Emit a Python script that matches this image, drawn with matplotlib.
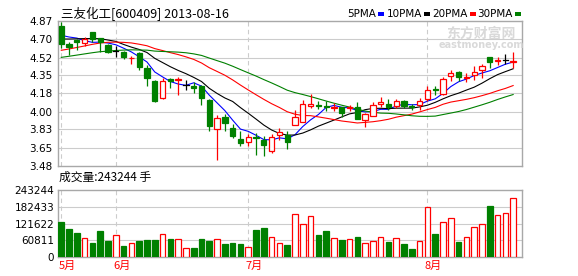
import matplotlib
matplotlib.use('Agg')
import matplotlib.pyplot as plt
from matplotlib.patches import Rectangle
import numpy as np
import pandas as pd

plt.rcParams['font.family'] = ['Noto Sans CJK SC', 'DejaVu Sans']

# ---------------- data ----------------
title = "三友化工[600409] 2013-08-16"
vol_title = "成交量:243244 手"

opens = [4.825, 4.647, 4.690, 4.658, 4.764, 4.706, 4.642, 4.587, 4.574, 4.514,
         4.565, 4.420, 4.298, 4.132, 4.312, 4.302, 4.260, 4.250, 4.244, 4.115,
         3.833, 3.946, 3.843, 3.737, 3.705, 3.761, 3.730, 3.624, 3.773, 3.778,
         3.869, 3.898, 4.052, 4.064, 4.055, 4.038, 4.042, 4.038, 4.042, 3.923,
         3.956, 4.074, 4.074, 4.052, 4.100, 4.059, 4.061, 4.122, 4.215, 4.170,
         4.341, 4.382, 4.324, 4.350, 4.398, 4.523, 4.488, 4.495, 4.478]
closes = [4.656, 4.618, 4.668, 4.695, 4.700, 4.668, 4.572, 4.587, 4.529, 4.520,
          4.433, 4.324, 4.106, 4.292, 4.298, 4.312, 4.260, 4.228, 4.132, 3.865,
          3.939, 3.888, 3.769, 3.701, 3.756, 3.750, 3.682, 3.753, 3.801, 3.705,
          3.949, 4.077, 4.074, 4.058, 4.048, 4.045, 3.987, 4.045, 3.932, 3.978,
          4.067, 4.093, 4.042, 4.100, 4.052, 4.045, 4.106, 4.206, 4.209, 4.315,
          4.372, 4.337, 4.337, 4.379, 4.437, 4.478, 4.495, 4.495, 4.485]
highs = [4.863, 4.671, 4.700, 4.716, 4.767, 4.709, 4.647, 4.629, 4.584, 4.539,
         4.572, 4.452, 4.305, 4.324, 4.324, 4.334, 4.308, 4.283, 4.260, 4.122,
         3.971, 3.981, 3.881, 3.811, 3.785, 3.795, 3.763, 3.785, 3.843, 3.817,
         4.016, 4.115, 4.170, 4.106, 4.100, 4.084, 4.045, 4.067, 4.093, 3.987,
         4.093, 4.138, 4.122, 4.122, 4.108, 4.074, 4.132, 4.244, 4.244, 4.334,
         4.404, 4.387, 4.372, 4.443, 4.459, 4.526, 4.523, 4.555, 4.575]
lows = [4.613, 4.546, 4.594, 4.632, 4.671, 4.579, 4.565, 4.523, 4.510, 4.462,
        4.404, 4.250, 4.096, 4.122, 4.228, 4.163, 4.212, 4.180, 4.067, 3.811,
        3.532, 3.811, 3.747, 3.673, 3.673, 3.586, 3.570, 3.602, 3.730, 3.644,
        3.869, 3.898, 4.035, 4.029, 4.004, 4.009, 3.946, 4.004, 3.930, 3.850,
        3.956, 4.042, 4.019, 4.035, 4.035, 4.019, 4.019, 4.100, 4.158, 4.165,
        4.298, 4.292, 4.283, 4.308, 4.324, 4.420, 4.452, 4.459, 4.420]
volumes = [128848, 102355, 89110, 68638, 52984, 95130, 59005, 79476, 40942, 51780,
           59005, 62617, 62617, 83089, 66230, 65026, 32513, 33717, 66230, 59005,
           65026, 48167, 51780, 48167, 36125, 98743, 105968, 72251, 50576, 44555,
           156543, 120418, 149318, 80680, 95130, 68638, 62617, 65026, 73455, 51780,
           57801, 72251, 55392, 68638, 48167, 30105, 59005, 180627, 84293, 126440,
           140890, 55392, 72251, 108376, 119214, 185444, 151727, 158952, 213137]
# closes before the first visible day (April), estimated from the MA starts
prior_closes = [4.30, 4.33, 4.35, 4.36, 4.37, 4.41, 4.40, 4.42, 4.44, 4.49,
                4.36, 4.38, 4.40, 4.39, 4.41, 4.44, 4.55, 4.58, 4.63, 4.68,
                4.62, 4.65, 4.67, 4.70, 4.68, 4.70, 4.72, 4.82, 4.78]

ma_periods = [5, 10, 20, 30]
ma_labels = ["5PMA", "10PMA", "20PMA", "30PMA"]
ma_colors = ["#0000ff", "#000000", "#ff0000", "#008000"]

price_ticks = [4.87, 4.70, 4.52, 4.35, 4.18, 4.00, 3.83, 3.65, 3.48]
price_tick_labels = ["4.87", "4.70", "4.52", "4.35", "4.18", "4.00", "3.83", "3.65", "3.48"]
vol_ticks = [0, 60811, 121622, 182433, 243244]
month_idx = [0, 7, 24, 47]
month_labels = ["5月", "6月", "7月", "8月"]

RED = "#ff0000"
GREEN = "#008000"
GRID = "#cccccc"
FRAME = "#a8a8a8"

W, H = 578, 276
fig = plt.figure(figsize=(W / 100, H / 100), dpi=100)

def fx(px):
    return px / W

def fy(py):
    return 1 - py / H

L, R = 58.3, 521.7
ax = fig.add_axes([fx(L), fy(165.7), (R - L) / W, (165.7 - 21.3) / H])
axv = fig.add_axes([fx(L), fy(257.3), (R - L) / W, (257.3 - 190.0) / H])

n = len(closes)
xs = np.arange(n)
xlim = (-0.38, n + 0.1)

# moving averages
allc = pd.Series(prior_closes + closes)
for p, col in zip(ma_periods, ma_colors):
    ma = allc.rolling(p).mean().to_numpy()[-n:]
    ax.plot(xs, ma, color=col, lw=0.8, zorder=3)

# candles
bw = 0.68
for i in range(n):
    o, c, h, l = opens[i], closes[i], highs[i], lows[i]
    if c > o:
        col, fc = RED, "white"
    elif c < o:
        col, fc = GREEN, GREEN
    else:
        col, fc = "black", "black"
    ax.plot([i, i], [l, h], color=col, lw=0.9, zorder=4, solid_capstyle='butt')
    if c == o:
        ax.plot([i - bw / 2, i + bw / 2], [o, o], color=col, lw=0.9, zorder=5)
    else:
        bot = min(o, c)
        hgt = max(abs(c - o), 0.004)
        ax.add_patch(Rectangle((i - bw / 2, bot), bw, hgt, facecolor=fc,
                               edgecolor=col, lw=0.9, zorder=5))

ax.set_xlim(*xlim)
ax.set_ylim(3.48, 4.87)
ax.set_yticks(price_ticks)
ax.set_yticklabels(price_tick_labels, fontsize=7.5, family='DejaVu Sans')
ax.set_xticks([])
ax.tick_params(axis='y', length=0, pad=4)
for t in price_ticks[1:-1]:
    ax.axhline(t, color=GRID, lw=0.8, zorder=0)
for m in month_idx:
    ax.axvline(m, color=GRID, lw=0.8, ls=(0, (4, 3)), zorder=0)

# volume
vw = 0.72
for i in range(n):
    up = closes[i] >= opens[i]
    if up:
        axv.add_patch(Rectangle((i - vw / 2, 0), vw, volumes[i], facecolor="white",
                                edgecolor=RED, lw=0.9, zorder=3))
    else:
        axv.add_patch(Rectangle((i - vw / 2, 0), vw, volumes[i], facecolor=GREEN,
                                edgecolor=GREEN, lw=0.9, zorder=3))
axv.set_xlim(*xlim)
axv.set_ylim(0, 243244)
axv.set_yticks(vol_ticks)
axv.set_yticklabels([str(v) for v in vol_ticks], fontsize=7.5, family='DejaVu Sans')
axv.tick_params(axis='y', length=0, pad=3)
axv.set_xticks([])
for t in vol_ticks[1:-1]:
    axv.axhline(t, color=GRID, lw=0.8, zorder=0)
for m in month_idx:
    axv.axvline(m, color=GRID, lw=0.8, ls=(0, (4, 3)), zorder=0)

for a in (ax, axv):
    for s in a.spines.values():
        s.set_color(FRAME)
        s.set_linewidth(1.0)

# month labels
for m, lab in zip(month_idx, month_labels):
    axv.text(m - 0.35, -0.06, lab, transform=axv.get_xaxis_transform(),
             ha='left', va='top', color=RED, fontsize=8)

# titles
fig.text(fx(61), fy(14), title, ha='left', va='center', fontsize=9, color='black')
fig.text(fx(59), fy(177), vol_title, ha='left', va='center', fontsize=8.5, color='black')

# legend
leg_ends = [376, 422, 468, 513]
for lab, col, xe in zip(ma_labels, ma_colors, leg_ends):
    fig.text(fx(xe), fy(14), lab, ha='right', va='center', fontsize=7.5,
             family='DejaVu Sans', color='black')
    fig.patches.append(Rectangle((fx(xe + 1.5), fy(15.5)), 6 / W, 3 / H,
                                 transform=fig.transFigure, facecolor=col,
                                 edgecolor='none', figure=fig))

# watermark
fig.text(fx(481), fy(34), "东方财富网", ha='center', va='center', fontsize=10,
         fontweight='bold', color='#d9d9d9', zorder=0)
fig.text(fx(481), fy(45), "eastmoney.com", ha='center', va='center', fontsize=7,
         fontweight='bold', color='#d9d9d9', family='DejaVu Sans', zorder=0)

fig.savefig("out.png", dpi=100)
